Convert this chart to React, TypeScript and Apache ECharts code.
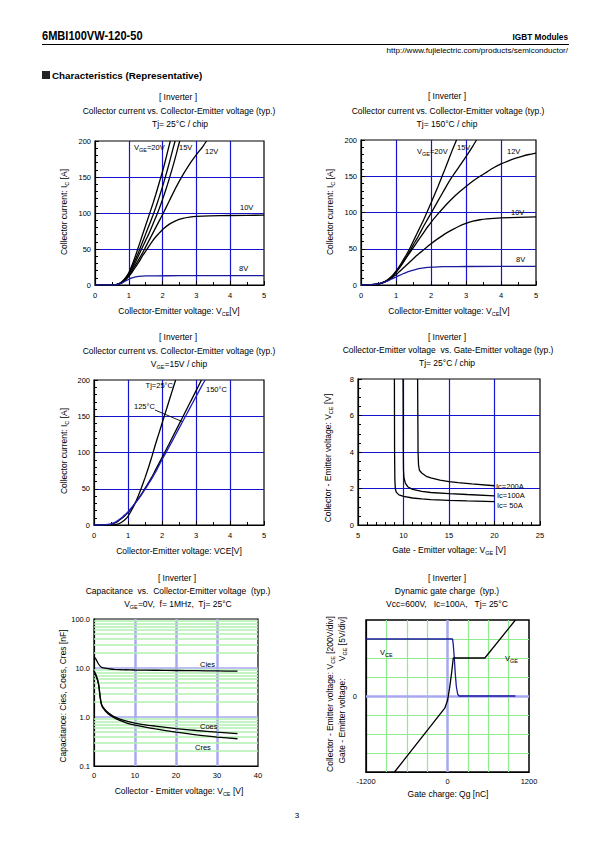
import React, { useEffect, useRef } from 'react';
import * as echarts from 'echarts';

const FONT = '"Liberation Sans", Arial, Helvetica, sans-serif';
const BLUE = '#1414cc';
const NAVY = '#1a1a9a';
const LAV = '#a8a8f0';
const GREEN5 = '#b0f0b0';
const GREEN6 = '#90ea90';

// ---------- Chart 1: Ic vs Vce, Tj=25°C ----------
const c1_vge20 = [[0,0],[0.5,0],[0.6,0.3],[0.7,1.5],[0.8,4.5],[0.9,10],[1.0,17],[1.1,28],[1.2,41],[1.3,55],[1.4,69],[1.5,83],[1.6,97],[1.7,111],[1.8,126],[1.9,142],[2.0,158],[2.1,176],[2.2,195],[2.23,200]];
const c1_vge17 = [[0,0],[0.5,0],[0.6,0.3],[0.7,1.4],[0.8,4.2],[0.9,9],[1.0,16],[1.1,25],[1.2,36],[1.3,47],[1.4,59],[1.5,71],[1.6,83],[1.7,95],[1.8,108],[1.9,122],[2.0,137],[2.1,153],[2.2,170],[2.3,188],[2.37,200]];
const c1_vge15 = [[0,0],[0.5,0],[0.6,0.3],[0.7,1.3],[0.8,4],[0.9,8.5],[1.0,15],[1.1,23],[1.2,32],[1.3,42],[1.4,52],[1.5,62],[1.6,72],[1.7,83],[1.8,94],[1.9,106],[2.0,119],[2.1,133],[2.2,148],[2.3,164],[2.4,181],[2.5,199],[2.51,200]];
const c1_vge12 = [[0,0],[0.5,0],[0.6,0.3],[0.7,1.2],[0.8,3.5],[0.9,7.5],[1.0,13],[1.1,20],[1.2,28],[1.3,36],[1.4,44],[1.5,53],[1.6,62],[1.7,71],[1.8,80],[1.9,89],[2.0,98],[2.2,117],[2.4,136],[2.6,153],[2.8,168],[3.0,181],[3.2,193],[3.3,200]];
const c1_vge10 = [[0,0],[0.5,0],[0.6,0.3],[0.7,1.2],[0.8,3.3],[0.9,7],[1.0,12],[1.1,18],[1.2,25],[1.3,32],[1.4,40],[1.5,47],[1.6,54],[1.7,61],[1.8,67],[1.9,72],[2.0,77],[2.2,84.5],[2.4,89.5],[2.6,92.5],[2.8,94.2],[3.0,95.2],[3.4,96],[4.0,96.5],[5.0,97]];
const c1_vge8 = [[0,0],[0.5,0],[0.6,0.3],[0.7,1.2],[0.8,3],[0.9,5.5],[1.0,8],[1.1,10],[1.2,11.3],[1.3,12],[1.5,12.6],[1.8,12.8],[2.5,12.9],[5.0,13]];

// ---------- Chart 2: Ic vs Vce, Tj=150°C ----------
const c2_vge20 = [[0,0],[0.3,0.5],[0.5,1.5],[0.6,3],[0.7,5],[0.8,8.5],[0.9,13],[1.0,19],[1.1,26],[1.2,34],[1.3,42],[1.4,51],[1.5,61],[1.6,71],[1.7,81],[1.8,91],[1.9,102],[2.0,113],[2.2,136],[2.4,160],[2.6,185],[2.73,200]];
const c2_vge15 = [[0,0],[0.3,0.5],[0.5,1.5],[0.6,3],[0.7,5],[0.8,8.3],[0.9,12.7],[1.0,18],[1.1,24.5],[1.2,31.5],[1.3,39],[1.4,47],[1.5,56],[1.6,64],[1.7,73],[1.8,82],[1.9,90.5],[2.0,99],[2.2,116],[2.4,133],[2.6,149],[2.8,163],[3.0,177],[3.2,192],[3.3,200]];
const c2_vge12 = [[0,0],[0.3,0.5],[0.5,1.5],[0.6,3],[0.7,5],[0.8,8],[0.9,12.3],[1.0,17],[1.1,23.5],[1.2,30.5],[1.3,38],[1.4,45],[1.5,52],[1.6,59],[1.7,66],[1.8,73],[1.9,80],[2.0,86.5],[2.2,98],[2.4,109],[2.6,119],[2.8,128],[3.0,136],[3.2,143.5],[3.4,150],[3.6,156],[3.8,162],[4.0,167],[4.2,171],[4.4,174.5],[4.6,177.5],[4.8,180],[5.0,182]];
const c2_vge10 = [[0,0],[0.3,0.5],[0.5,1.5],[0.6,2.8],[0.7,4.6],[0.8,7.2],[0.9,10.4],[1.0,14],[1.1,18.5],[1.2,23],[1.3,27.5],[1.4,32],[1.5,36.5],[1.6,41],[1.7,45],[1.8,49],[1.9,53],[2.0,57],[2.2,64],[2.4,70.5],[2.6,76],[2.8,81],[3.0,85],[3.2,88],[3.4,90],[3.6,91.2],[4.0,92.5],[4.5,93.3],[5.0,94]];
const c2_vge8 = [[0,0],[0.3,0.5],[0.5,1.5],[0.6,2.8],[0.7,4.5],[0.8,6.5],[0.9,8.8],[1.0,11],[1.1,13.3],[1.2,15.5],[1.3,17.5],[1.4,19.2],[1.5,20.6],[1.6,21.8],[1.7,22.8],[1.8,23.6],[1.9,24.2],[2.0,24.6],[2.2,25.1],[2.5,25.4],[3.0,25.5],[5.0,25.6]];

// ---------- Chart 3: Ic vs Vce, Vge=15V ----------
const c3_tj25 = [[0,0],[0.5,0],[0.6,0.3],[0.7,1.2],[0.8,3.5],[0.9,7],[1.0,12],[1.1,20],[1.2,29],[1.3,40],[1.4,52],[1.5,65],[1.6,79],[1.7,94],[1.8,110],[1.9,125],[2.0,140],[2.1,155],[2.2,170],[2.3,185],[2.4,200]];
const c3_tj125 = [[0,0],[0.4,0.3],[0.5,1],[0.6,2.5],[0.7,5],[0.8,8.5],[0.9,12.5],[1.0,17],[1.1,23],[1.2,29.5],[1.3,36],[1.4,43],[1.5,50.5],[1.6,58],[1.7,66],[1.8,75],[1.9,84],[2.0,93],[2.2,111],[2.4,129.5],[2.6,148],[2.8,166.5],[3.0,185],[3.16,200]];
const c3_tj150 = [[0,0],[0.3,0.3],[0.4,0.8],[0.5,1.6],[0.6,3.2],[0.7,6],[0.8,9.5],[0.9,13.8],[1.0,18],[1.1,23.5],[1.2,29.5],[1.3,35.5],[1.4,42],[1.5,49],[1.6,56.5],[1.7,64],[1.8,72],[1.9,81],[2.0,90],[2.2,107],[2.4,124.5],[2.6,142],[2.8,159.5],[3.0,177],[3.2,194.5],[3.27,200]];

// ---------- Chart 4: Vce vs Vge, Tj=25°C ----------
const c4_ic50 = [[9.0,8],[9.02,4],[9.05,2.5],[9.1,2.0],[9.2,1.8],[9.5,1.65],[10,1.57],[11,1.48],[12,1.43],[13,1.39],[15,1.35],[17,1.32],[20,1.28]];
const c4_ic100 = [[9.95,8],[9.98,4],[10.0,3.0],[10.05,2.6],[10.2,2.3],[10.5,2.08],[11,1.95],[12,1.84],[13,1.78],[15,1.72],[17,1.67],[20,1.6]];
const c4_ic200 = [[11.55,8],[11.6,4],[11.65,3.3],[11.75,3.0],[12,2.85],[12.5,2.67],[13,2.58],[14,2.46],[15,2.38],[16,2.32],[17.5,2.25],[20,2.15]];

// ---------- Chart 5: Capacitance ----------
const c5_cies = [[0,17],[0.5,15],[1,12.5],[1.5,10.9],[2,10.2],[3,9.8],[4,9.55],[5,9.4],[7.5,9.2],[10,9.1],[15,9.0],[20,8.9],[25,8.8],[30,8.7],[35,8.6]];
const c5_coes = [[0,8.8],[0.5,7.2],[1.0,5.3],[1.25,4.0],[1.5,2.6],[1.75,1.95],[2.0,1.7],[2.5,1.48],[3,1.33],[4,1.14],[5,1.01],[6,0.93],[8,0.82],[10,0.75],[12.5,0.69],[15,0.65],[20,0.58],[25,0.53],[30,0.49],[35,0.46]];
const c5_cres = [[0,8.5],[0.5,6.9],[1.0,5.1],[1.25,3.8],[1.5,2.5],[1.75,1.88],[2.0,1.63],[2.5,1.42],[3,1.27],[4,1.08],[5,0.96],[6,0.87],[8,0.75],[10,0.68],[12.5,0.62],[15,0.57],[20,0.49],[25,0.43],[30,0.39],[35,0.36]];
const c5_minor = [0.2,0.3,0.4,0.5,0.6,0.7,0.8,0.9,2,3,4,5,6,7,8,9,20,30,40,50,60,70,80,90];

// ---------- Chart 6: Gate charge ----------
const c6_vce = [[-1200,600],[75,600],[85,540],[100,400],[115,230],[130,100],[150,20],[170,0],[1000,0]];
const c6_vge = [[-780,-20],[-40,-3.2],[0,-1.2],[30,2],[60,6],[85,10],[550,10],[1000,20]];

const sub = { fontSize: 5.5, fontFamily: FONT, fill: '#000', verticalAlign: 'bottom', lineHeight: 11 };

function T(x: number, y: number, text: string, o: any = {}) {
  return {
    type: 'text', x, y, rotation: o.rot || 0, scaleX: o.sx || 1, silent: true, z: 100,
    style: {
      text, x: 0, y: 0, fontSize: o.fs || 8.5, fontFamily: FONT, fontWeight: o.fw || 'normal',
      fill: '#000', align: o.align || 'center', verticalAlign: 'middle', rich: { s: sub },
    },
  };
}

function xAx(grid: number, min: number, max: number, interval: number, o: any = {}) {
  return {
    type: 'value', gridIndex: grid, min, max, interval,
    axisLine: { show: true, onZero: false, lineStyle: { color: '#000', width: 1.2 } },
    axisTick: { show: o.tick !== false, inside: true, length: 4, lineStyle: { color: '#000', width: 1 } },
    minorTick: { show: !!o.minor, splitNumber: o.minor || 5, length: 3, lineStyle: { color: '#000', width: 1 } },
    splitLine: { show: true, showMinLine: false, showMaxLine: false, lineStyle: { color: o.split || BLUE, width: o.sw || 1.2 } },
    axisLabel: { fontSize: 7.5, fontFamily: FONT, color: '#000', margin: o.margin || 6, formatter: o.fmt },
  };
}
function yAx(grid: number, min: number, max: number, interval: number, o: any = {}) {
  const a: any = xAx(grid, min, max, interval, o);
  a.axisLabel.margin = o.margin || 4;
  if (o.log) { a.type = 'log'; a.logBase = 10; delete a.interval; }
  if (o.show === false) { a.show = false; }
  return a;
}

function S(name: string, xi: number, yi: number, data: number[][], color = '#000', o: any = {}) {
  return {
    name, type: 'line', xAxisIndex: xi, yAxisIndex: yi, data, showSymbol: false, symbol: 'none',
    smooth: o.smooth === undefined ? 0.2 : o.smooth, clip: true, silent: true, z: 5,
    lineStyle: { color, width: 1.3 },
  };
}

const option: any = {
  animation: false,
  backgroundColor: '#fff',
  grid: [
    { left: 95, top: 141, width: 169, height: 144, show: true, borderColor: '#000', borderWidth: 1.2 },
    { left: 361, top: 140, width: 175, height: 145, show: true, borderColor: '#000', borderWidth: 1.2 },
    { left: 94, top: 380, width: 170, height: 145, show: true, borderColor: '#000', borderWidth: 1.2 },
    { left: 358, top: 379, width: 182, height: 146, show: true, borderColor: '#000', borderWidth: 1.2 },
    { left: 94, top: 619, width: 164, height: 147, show: true, borderColor: '#000', borderWidth: 1.2 },
    { left: 366, top: 620, width: 163, height: 152, show: true, borderColor: '#000', borderWidth: 1.5 },
  ],
  xAxis: [
    xAx(0, 0, 5, 1, { minor: 2 }),
    xAx(1, 0, 5, 1, { minor: 2 }),
    xAx(2, 0, 5, 1, { minor: 2 }),
    xAx(3, 5, 25, 5, { minor: 5 }),
    xAx(4, 0, 40, 10, { tick: false, split: LAV, sw: 2.5, margin: 5 }),
    xAx(5, -1200, 1200, 300, { tick: false, split: GREEN6, sw: 1.2, margin: 5,
      fmt: (v: number) => (v === -1200 || v === 0 || v === 1200 ? String(v) : '') }),
  ],
  yAxis: [
    yAx(0, 0, 200, 50, { minor: 5 }),
    yAx(1, 0, 200, 50, { minor: 5 }),
    yAx(2, 0, 200, 50, { minor: 5 }),
    yAx(3, 0, 8, 2, { minor: 4 }),
    yAx(4, 0.1, 100, 1, { log: true, tick: false, split: LAV, sw: 1.5, fmt: (v: number) => v.toFixed(1) }),
    yAx(5, -800, 800, 200, { tick: false, split: GREEN6, sw: 1.2, margin: 9, fmt: (v: number) => (v === 0 ? '0' : '') }),
    yAx(5, -20, 20, 5, { show: false }),
  ],
  series: [
    S('VGE=20V', 0, 0, c1_vge20), S('VGE=17V', 0, 0, c1_vge17), S('VGE=15V', 0, 0, c1_vge15),
    S('VGE=12V', 0, 0, c1_vge12), S('VGE=10V', 0, 0, c1_vge10), S('VGE=8V', 0, 0, c1_vge8, NAVY),
    S('VGE=20V', 1, 1, c2_vge20), S('VGE=15V', 1, 1, c2_vge15), S('VGE=12V', 1, 1, c2_vge12),
    S('VGE=10V', 1, 1, c2_vge10), S('VGE=8V', 1, 1, c2_vge8, NAVY),
    S('Tj=25°C', 2, 2, c3_tj25), S('Tj=125°C', 2, 2, c3_tj125), S('Tj=150°C', 2, 2, c3_tj150, '#1c1cc0'),
    S('Ic=50A', 3, 3, c4_ic50, '#000', { smooth: false }),
    S('Ic=100A', 3, 3, c4_ic100, '#000', { smooth: false }),
    S('Ic=200A', 3, 3, c4_ic200, '#000', { smooth: false }),
    {
      name: 'minor-grid', type: 'line', xAxisIndex: 4, yAxisIndex: 4, data: [], silent: true, z: 1,
      markLine: {
        silent: true, symbol: ['none', 'none'], label: { show: false }, animation: false,
        lineStyle: { color: GREEN5, width: 1.6, type: 'solid' },
        data: c5_minor.map((v) => ({ yAxis: v })),
      },
    },
    S('Cies', 4, 4, c5_cies), S('Coes', 4, 4, c5_coes), S('Cres', 4, 4, c5_cres),
    {
      name: 'zero-grid', type: 'line', xAxisIndex: 5, yAxisIndex: 5, data: [], silent: true, z: 1,
      markLine: {
        silent: true, symbol: ['none', 'none'], label: { show: false }, animation: false,
        lineStyle: { color: LAV, width: 2.5, type: 'solid' },
        data: [{ xAxis: 0 }, { yAxis: 0 }],
      },
    },
    S('VCE', 5, 5, c6_vce, NAVY, { smooth: false }),
    S('VGE', 5, 6, c6_vge, '#000', { smooth: false }),
  ],
  graphic: {
    elements: [
      // page header
      T(42, 36, '6MBI100VW-120-50', { fs: 13.5, fw: 'bold', align: 'left', sx: 0.82 }),
      T(568, 37, 'IGBT Modules', { fs: 9, fw: 'bold', align: 'right', sx: 0.92 }),
      { type: 'line', silent: true, shape: { x1: 42, y1: 44.5, x2: 569, y2: 44.5 }, style: { stroke: '#000', lineWidth: 1 } },
      T(568, 50, 'http://www.fujielectric.com/products/semiconductor/', { fs: 8, align: 'right' }),
      { type: 'rect', silent: true, shape: { x: 42, y: 71, width: 8, height: 8 }, style: { fill: '#222' } },
      T(52, 75, 'Characteristics (Representative)', { fs: 9.8, fw: 'bold', align: 'left' }),

      // chart 1
      T(178, 97, '[ Inverter ]'),
      T(179, 111, 'Collector current vs. Collector-Emitter voltage (typ.)'),
      T(180, 124, 'Tj= 25°C / chip'),
      T(179, 311, 'Collector-Emitter voltage: V{s|CE}[V]'),
      T(64, 212, 'Collector current: I{s|C} [A]', { rot: Math.PI / 2 }),
      T(134, 147, 'V{s|GE}=20V', { fs: 7.5, align: 'left' }),
      T(179, 147, '15V', { fs: 7.5, align: 'left' }),
      T(205, 151, '12V', { fs: 7.5, align: 'left' }),
      T(240, 207, '10V', { fs: 7.5, align: 'left' }),
      T(239, 268, '8V', { fs: 7.5, align: 'left' }),

      // chart 2
      T(447, 96, '[ Inverter ]'),
      T(448, 110.5, 'Collector current vs. Collector-Emitter voltage (typ.)'),
      T(447, 123.5, 'Tj= 150°C / chip'),
      T(449, 311, 'Collector-Emitter voltage: V{s|CE}[V]'),
      T(330, 212, 'Collector current: I{s|C} [A]', { rot: Math.PI / 2 }),
      T(417, 151, 'V{s|GE}=20V', { fs: 7.5, align: 'left' }),
      T(457, 147, '15V', { fs: 7.5, align: 'left' }),
      T(507, 151, '12V', { fs: 7.5, align: 'left' }),
      T(511, 212, '10V', { fs: 7.5, align: 'left' }),
      T(516, 259, '8V', { fs: 7.5, align: 'left' }),

      // chart 3
      T(178, 337, '[ Inverter ]'),
      T(179, 351, 'Collector current vs. Collector-Emitter voltage (typ.)'),
      T(179, 364, 'V{s|GE}=15V / chip'),
      T(179, 551, 'Collector-Emitter voltage: VCE[V]'),
      T(64, 451, 'Collector current: I{s|C} [A]', { rot: Math.PI / 2 }),
      T(173, 385, 'Tj=25°C', { fs: 7.5, align: 'right' }),
      T(134, 406, '125°C', { fs: 7.5, align: 'left' }),
      { type: 'line', silent: true, z: 100, shape: { x1: 155, y1: 410, x2: 182, y2: 421.5 }, style: { stroke: '#000', lineWidth: 0.9 } },
      T(206, 389, '150°C', { fs: 7.5, align: 'left' }),

      // chart 4
      T(447, 337, '[ Inverter ]'),
      T(448, 350, 'Collector-Emitter voltage  vs. Gate-Emitter voltage (typ.)'),
      T(447, 363, 'Tj= 25°C / chip'),
      T(449, 550, 'Gate - Emitter voltage: V{s|GE} [V]'),
      T(328, 458, 'Collector - Emitter voltage: V{s|CE} [V]', { rot: Math.PI / 2 }),
      T(496, 486, 'Ic=200A', { fs: 7.5, align: 'left' }),
      T(497, 495.5, 'Ic=100A', { fs: 7.5, align: 'left' }),
      T(497, 505, 'Ic= 50A', { fs: 7.5, align: 'left' }),

      // chart 5
      T(177, 578, '[ Inverter ]'),
      T(178, 591, 'Capacitance  vs.  Collector-Emitter voltage  (typ.)'),
      T(178, 604, 'V{s|GE}=0V,  f= 1MHz,  Tj= 25°C'),
      T(179, 791, 'Collector - Emitter voltage: V{s|CE} [V]'),
      T(63, 696, 'Capacitance: Cies, Coes, Cres [nF]', { rot: Math.PI / 2 }),
      T(200, 664, 'Cies', { fs: 7.5, align: 'left' }),
      T(200, 726, 'Coes', { fs: 7.5, align: 'left' }),
      T(195, 747, 'Cres', { fs: 7.5, align: 'left' }),

      // chart 6
      T(447, 578, '[ Inverter ]'),
      T(447, 591, 'Dynamic gate charge  (typ.)'),
      T(447, 604, 'Vcc=600V,   Ic=100A,   Tj= 25°C'),
      T(448, 794, 'Gate charge: Qg [nC]'),
      T(330, 694, 'Collector - Emitter voltage: V{s|CE} [200V/div]', { rot: Math.PI / 2 }),
      T(342, 721, 'Gate - Emitter voltage:', { rot: Math.PI / 2 }),
      T(342, 639, 'V{s|GE} [5V/div]', { rot: Math.PI / 2 }),
      T(380, 652, 'V{s|CE}', { fs: 7.5, align: 'left' }),
      T(505, 658, 'V{s|GE}', { fs: 7.5, align: 'left' }),

      // page number
      T(297, 815, '3', { fs: 8 }),
    ],
  },
};

export default function App() {
  const ref = useRef<HTMLDivElement>(null);
  useEffect(() => {
    const chart = echarts.init(ref.current as HTMLDivElement, null, { renderer: 'svg' });
    chart.setOption(option);
    return () => chart.dispose();
  }, []);
  return (
    <div
      ref={ref}
      style={{ position: 'absolute', left: 0, top: 0, width: 595, height: 842, background: '#fff' }}
    />
  );
}
